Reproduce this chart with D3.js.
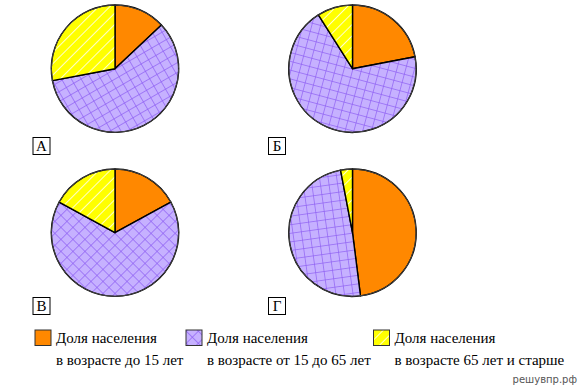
<!DOCTYPE html>
<html>
<head>
<meta charset="utf-8">
<script src="https://cdn.jsdelivr.net/npm/d3@7"></script>
<style>
  body { margin: 0; background: #fff; }
  svg { display: block; }
</style>
</head>
<body>
<svg id="svg"></svg>
<script>
// shares of population per diagram, %
const pieLabels = ["А", "Б", "В", "Г"];
const childShare = [13, 22, 17, 48];
const workingShare = [59, 69, 66, 49];
const elderShare = [28, 9, 17, 3];
const gridTurn = [60, 15, 45, -8]; // hatch rotation for each pie
const legendTop = ["Доля населения", "Доля населения", "Доля населения"];
const legendBottom = ["в возрасте до 15 лет", "в возрасте от 15 до 65 лет", "в возрасте 65 лет и старше"];

const width = 585;
const height = 391;
let svg = d3.select("#svg").attr("width", width).attr("height", height);

const orange = "#ff8800";
const lilac = "#c6b1ff";
const lilacLine = "#8c5cf2";
const yellow = "#ffff00";

let defs = svg.append("defs");

function gridPattern(id, turn) {
    let p = defs.append("pattern")
        .attr("id", id)
        .attr("patternUnits", "userSpaceOnUse")
        .attr("width", 8.5).attr("height", 8.5)
        .attr("patternTransform", `rotate(${turn})`);
    p.append("rect").attr("width", 8.5).attr("height", 8.5).attr("fill", lilac);
    p.append("line").attr("x1", 0).attr("y1", 0).attr("x2", 8.5).attr("y2", 0)
        .attr("stroke", lilacLine).attr("stroke-width", 1.3);
    p.append("line").attr("x1", 0).attr("y1", 0).attr("x2", 0).attr("y2", 8.5)
        .attr("stroke", lilacLine).attr("stroke-width", 1.3);
}

function stripePattern(id) {
    let p = defs.append("pattern")
        .attr("id", id)
        .attr("patternUnits", "userSpaceOnUse")
        .attr("width", 8).attr("height", 8)
        .attr("patternTransform", "rotate(45)");
    p.append("rect").attr("width", 8).attr("height", 8).attr("fill", yellow);
    p.append("line").attr("x1", 0).attr("y1", 0).attr("x2", 0).attr("y2", 8)
        .attr("stroke", "#fff").attr("stroke-width", 1.6);
}

gridTurn.forEach((t, i) => gridPattern("grid" + i, t));
gridPattern("gridLegend", 45);
stripePattern("stripes");

const xScale = d3.scalePoint().domain([0, 1]).range([115, 352.5]);
const yScale = d3.scalePoint().domain([0, 1]).range([68.7, 232.7]);
const boxX = d3.scalePoint().domain([0, 1]).range([33, 268.5]);
const boxY = d3.scalePoint().domain([0, 1]).range([137.5, 297.5]);
const radius = 63.7;

const pie = d3.pie().sort(null).value(d => d.value);
const arc = d3.arc().innerRadius(0).outerRadius(radius);

pieLabels.forEach(function (label, i) {
    const col = i % 2, row = Math.floor(i / 2);
    const data = [
        { value: childShare[i], fill: orange },
        { value: workingShare[i], fill: `url(#grid${i})` },
        { value: elderShare[i], fill: "url(#stripes)" }
    ];
    let g = svg.append("g")
        .attr("transform", `translate(${xScale(col)},${yScale(row)})`);

    g.selectAll("path")
        .data(pie(data))
        .join("path")
        .attr("d", arc)
        .attr("fill", d => d.data.fill)
        .attr("stroke", "#000")
        .attr("stroke-width", 1.4)
        .attr("stroke-linejoin", "round");

    g.append("circle")
        .attr("r", radius)
        .attr("fill", "none")
        .attr("stroke", "#444")
        .attr("stroke-width", 1);

    svg.append("rect")
        .attr("x", boxX(col)).attr("y", boxY(row))
        .attr("width", 17).attr("height", 17)
        .attr("fill", "#fff")
        .attr("stroke", "#000")
        .attr("stroke-width", 1);
    svg.append("text")
        .attr("x", boxX(col) + 8.5).attr("y", boxY(row) + 13.5)
        .attr("text-anchor", "middle")
        .attr("font-family", "Liberation Serif, Times New Roman, serif")
        .attr("font-size", "15px")
        .text(label);
});

// legend
const legendX = [35, 186, 373.5];
const legendFills = [orange, "url(#gridLegend)", "url(#stripes)"];
legendTop.forEach(function (t, i) {
    svg.append("rect")
        .attr("x", legendX[i]).attr("y", 330)
        .attr("width", 16).attr("height", 15.5)
        .attr("fill", legendFills[i])
        .attr("stroke", "#333")
        .attr("stroke-width", 1);
    svg.append("text")
        .attr("x", legendX[i] + 21).attr("y", 343)
        .attr("font-family", "Liberation Serif, Times New Roman, serif")
        .attr("font-size", "15px")
        .text(t);
    svg.append("text")
        .attr("x", legendX[i] + 21).attr("y", 365)
        .attr("font-family", "Liberation Serif, Times New Roman, serif")
        .attr("font-size", "15px")
        .text(legendBottom[i]);
});

svg.append("text")
    .attr("x", 577).attr("y", 383)
    .attr("text-anchor", "end")
    .attr("font-family", "DejaVu Sans, sans-serif")
    .attr("font-size", "10px")
    .attr("fill", "#555")
    .text("решувпр.рф");
</script>
</body>
</html>
